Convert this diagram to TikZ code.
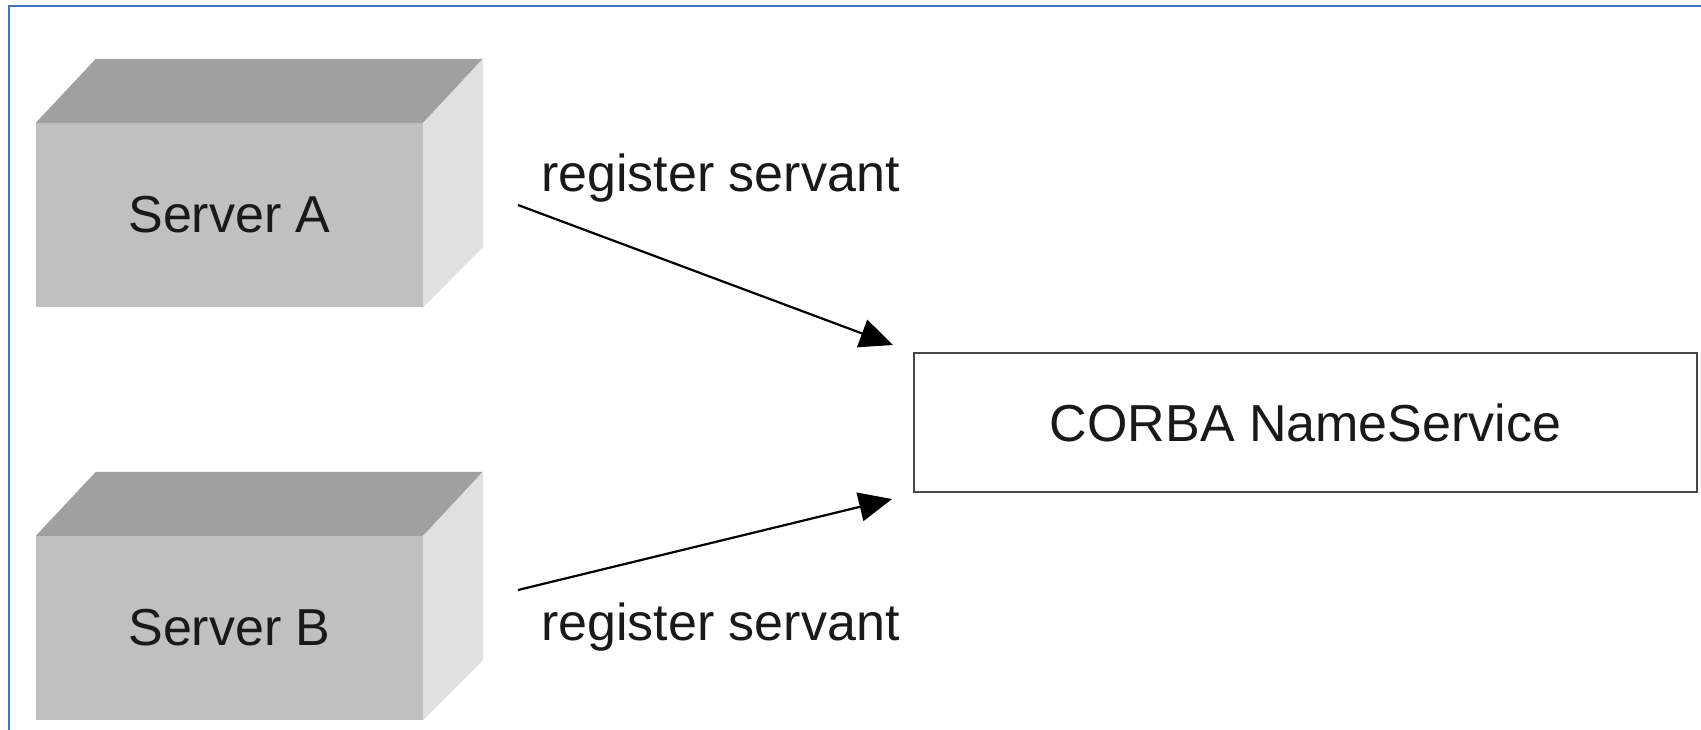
\documentclass[tikz,border=0pt]{standalone}
\usepackage{fontspec}
\setmainfont{Liberation Sans}
\usetikzlibrary{arrows.meta,calc}
\definecolor{frameblue}{RGB}{68,114,196}
\definecolor{topgray}{RGB}{160,160,160}
\definecolor{frontgray}{RGB}{192,192,192}
\definecolor{sidegray}{RGB}{224,224,224}
\begin{document}
\begin{tikzpicture}[x=1pt,y=-1pt,
  bigfont/.style={font=\fontsize{52}{60}\selectfont},
  front/.style={draw=none,fill=frontgray,minimum width=387pt,minimum height=184pt,inner sep=0pt,bigfont,text=black!90},
  topface/.style={fill=topgray},
  sideface/.style={fill=sidegray},
  service/.style={draw=black!72,line width=2pt,fill=white,minimum width=783pt,minimum height=139pt,inner sep=0pt,bigfont,text=black!90},
  lbl/.style={anchor=base west,inner sep=0pt,bigfont,text=black!90},
  reg/.style={line width=2.2pt,-{Triangle[length=33pt,width=29pt]}}]
\useasboundingbox (0,0) rectangle (1701,730);
\draw[frameblue,line width=2pt] (9,732) -- (9,6.5) -- (1703,6.5);
% Server A
\node[front] (A) at (229.5,215) {Server A};
\fill[topface] (A.north west) -- ++(60,-64) -- ++(387,0) -- (A.north east) -- cycle;
\fill[sideface] (A.north east) -- ++(60,-64) -- ++(0,188) -- (A.south east) -- cycle;
% Server B
\node[front] (B) at (229.5,628) {Server B};
\fill[topface] (B.north west) -- ++(60,-64) -- ++(387,0) -- (B.north east) -- cycle;
\fill[sideface] (B.north east) -- ++(60,-64) -- ++(0,188) -- (B.south east) -- cycle;
% Name service
\node[service] (NS) at (1305.5,422.5) {CORBA NameService};
% connectors
\coordinate (a0) at (518,205);
\coordinate (a1) at (893,345);
\coordinate (b0) at (518,590);
\coordinate (b1) at (892,499);
\draw[reg] (a0) -- (a1);
\draw[reg] (b0) -- (b1);
\node[lbl] (la) at (541,192) {register servant};
\node[lbl] (lb) at (541,640) {register servant};
\end{tikzpicture}
\end{document}
